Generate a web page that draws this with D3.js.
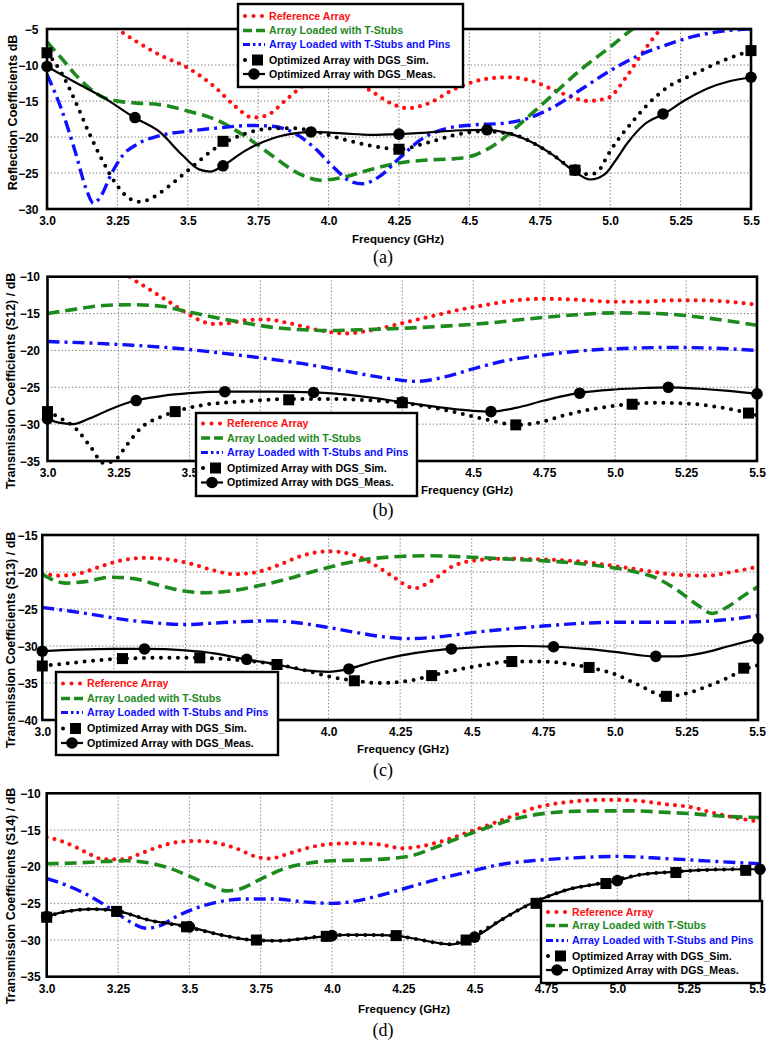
<!DOCTYPE html>
<html><head><meta charset="utf-8">
<script src="https://cdn.jsdelivr.net/npm/d3@7"></script>
<style>body{margin:0;background:#fff}</style></head>
<body><svg id="c" width="767" height="1044" xmlns="http://www.w3.org/2000/svg"></svg>
<script>
// ---------- shared labels ----------
const freqTicks = [3.0,3.25,3.5,3.75,4.0,4.25,4.5,4.75,5.0,5.25,5.5];
const freqTickLabels = ["3.0","3.25","3.5","3.75","4.0","4.25","4.5","4.75","5.0","5.25","5.5"];
const legendLabels = ["Reference Array","Array Loaded with T-Stubs","Array Loaded with T-Stubs and Pins","Optimized Array with DGS_Sim.","Optimized Array with DGS_Meas."];
const yTitles = ["Reflection Coefficients dB","Transmission Coefficients (S12) / dB","Transmission Coefficients (S13) / dB","Transmission Coefficients (S14) / dB"];
const panelLetters = ["(a)","(b)","(c)","(d)"];
const yTicksA = [-30,-25,-20,-15,-10,-5];
const yTicksB = [-35,-30,-25,-20,-15,-10];
const yTicksC = [-40,-35,-30,-25,-20,-15];
const yTicksD = [-35,-30,-25,-20,-15,-10];

// ---------- panel (a) ----------
const aRef = [[3.2,-3.6],[3.25,-5],[3.32,-6.8],[3.4,-8.6],[3.5,-10.4],[3.6,-13.2],[3.67,-15.8],[3.73,-17.3],[3.78,-17.0],[3.85,-14.8],[3.92,-12.6],[4.0,-11.6],[4.07,-12.0],[4.15,-13.6],[4.22,-15.3],[4.28,-16.0],[4.35,-15.4],[4.45,-13.3],[4.55,-12.0],[4.64,-11.7],[4.72,-12.2],[4.82,-13.8],[4.92,-15.0],[4.99,-14.6],[5.06,-11.5],[5.12,-8.0],[5.18,-5],[5.22,-3.5]];
const aStub = [[3.0,-6.8],[3.05,-9],[3.1,-11.3],[3.15,-13.2],[3.2,-14.5],[3.25,-15.0],[3.32,-15.3],[3.4,-15.5],[3.5,-16.4],[3.6,-17.6],[3.7,-19.8],[3.8,-22.6],[3.9,-25.2],[3.97,-26.0],[4.05,-25.6],[4.15,-24.5],[4.25,-23.6],[4.35,-23.2],[4.45,-23.0],[4.52,-22.5],[4.6,-20.8],[4.7,-17.5],[4.8,-14.0],[4.9,-10.5],[5.0,-7.5],[5.08,-5.0],[5.12,-4.0]];
const aPins = [[3.0,-11.3],[3.05,-16],[3.1,-22],[3.14,-27.3],[3.165,-29.2],[3.19,-28.3],[3.23,-25],[3.27,-22.5],[3.32,-21],[3.4,-19.8],[3.5,-19.2],[3.62,-18.7],[3.72,-18.4],[3.8,-18.5],[3.88,-19.5],[3.95,-21.5],[4.02,-24.3],[4.08,-26.2],[4.12,-26.5],[4.18,-25.5],[4.25,-23],[4.33,-20.3],[4.42,-18.8],[4.52,-18.3],[4.62,-18.1],[4.7,-17.5],[4.8,-15.8],[4.9,-13.3],[5.0,-10.8],[5.1,-8.7],[5.2,-7.2],[5.3,-6.0],[5.4,-5.3],[5.5,-5.0]];
const aSim = [[3.0,-8.3],[3.05,-11],[3.1,-15],[3.15,-19.5],[3.2,-23.5],[3.25,-26.8],[3.3,-28.7],[3.33,-29],[3.38,-28.3],[3.45,-26.3],[3.52,-24],[3.6,-21.5],[3.7,-19.6],[3.8,-18.8],[3.88,-18.8],[3.96,-19.3],[4.05,-20.3],[4.15,-21.2],[4.25,-21.7],[4.35,-20.8],[4.45,-19.7],[4.55,-19.2],[4.65,-19.6],[4.72,-20.7],[4.8,-22.6],[4.87,-24.5],[4.93,-25.2],[4.965,-24.4],[4.99,-22.6],[5.02,-20.8],[5.07,-18.3],[5.13,-15.6],[5.2,-13.2],[5.3,-11.2],[5.4,-9.4],[5.5,-8.0]];
const aSimMarks = [[3.0,-8.3],[3.625,-20.6],[4.25,-21.7],[4.875,-24.6],[5.5,-8.0]];
const aMeas = [[3.0,-10.2],[3.1,-12.4],[3.2,-14.5],[3.31,-17.3],[3.4,-19.3],[3.48,-22.5],[3.54,-24.5],[3.58,-24.8],[3.625,-24.0],[3.7,-22],[3.8,-20.2],[3.9,-19.4],[3.94,-19.3],[4.05,-19.5],[4.15,-19.7],[4.25,-19.6],[4.35,-19.4],[4.45,-19.1],[4.56,-19.0],[4.65,-19.6],[4.72,-20.7],[4.8,-22.6],[4.86,-24.4],[4.93,-25.9],[4.98,-25.2],[5.02,-23.2],[5.06,-20.9],[5.12,-18.3],[5.19,-16.8],[5.27,-14.8],[5.35,-13.2],[5.42,-12.3],[5.5,-11.7]];
const aMeasMarks = [[3.0,-10.2],[3.3125,-17.3],[3.625,-24.0],[3.9375,-19.3],[4.25,-19.6],[4.5625,-19.0],[4.875,-24.6],[5.1875,-16.8],[5.5,-11.7]];

// ---------- panel (b) ----------
const bRef = [[3.25,-8.5],[3.29,-10],[3.35,-11.5],[3.42,-13.2],[3.48,-14.7],[3.53,-15.8],[3.58,-16.4],[3.64,-16.3],[3.7,-15.9],[3.77,-15.8],[3.85,-16.3],[3.95,-17.2],[4.05,-17.7],[4.15,-17.2],[4.25,-16.3],[4.35,-15.4],[4.45,-14.5],[4.55,-13.8],[4.65,-13.2],[4.75,-13.0],[4.85,-13.1],[5.0,-13.4],[5.1,-13.4],[5.2,-13.2],[5.3,-13.2],[5.4,-13.4],[5.5,-13.8]];
const bStub = [[3.0,-15],[3.1,-14.4],[3.2,-13.9],[3.3,-13.8],[3.4,-14.0],[3.5,-14.8],[3.6,-15.6],[3.7,-16.3],[3.8,-16.9],[3.9,-17.2],[4.0,-17.3],[4.1,-17.2],[4.25,-17.0],[4.4,-16.7],[4.55,-16.3],[4.7,-15.7],[4.85,-15.2],[5.0,-14.9],[5.15,-15.0],[5.3,-15.5],[5.4,-16.0],[5.5,-16.6]];
const bPins = [[3.0,-18.8],[3.15,-19.0],[3.3,-19.3],[3.45,-19.7],[3.6,-20.3],[3.75,-21.0],[3.9,-21.8],[4.05,-22.8],[4.2,-23.8],[4.3,-24.2],[4.4,-23.6],[4.5,-22.5],[4.6,-21.5],[4.75,-20.6],[4.9,-20.0],[5.05,-19.7],[5.2,-19.6],[5.35,-19.7],[5.5,-20.0]];
const bSim = [[3.0,-28.3],[3.05,-29.3],[3.1,-30.6],[3.15,-33],[3.2,-35.3],[3.24,-34.8],[3.28,-32.8],[3.33,-30.5],[3.4,-29],[3.45,-28.3],[3.55,-27.4],[3.7,-26.9],[3.85,-26.6],[4.0,-26.6],[4.15,-26.8],[4.25,-27.1],[4.35,-27.7],[4.45,-28.5],[4.55,-29.4],[4.65,-30.1],[4.73,-29.8],[4.82,-28.8],[4.93,-27.9],[5.05,-27.3],[5.15,-27.1],[5.25,-27.2],[5.35,-27.6],[5.47,-28.5],[5.5,-28.8]];
const bSimMarks = [[3.0,-28.3],[3.45,-28.3],[3.85,-26.7],[4.25,-27.1],[4.65,-30.1],[5.06,-27.3],[5.47,-28.5]];
const bMeas = [[3.0,-29.3],[3.04,-29.8],[3.09,-30.0],[3.15,-29.2],[3.22,-28.0],[3.31,-26.8],[3.4,-26.2],[3.5,-25.8],[3.63,-25.6],[3.8,-25.6],[3.94,-25.7],[4.1,-26.2],[4.25,-27.0],[4.4,-27.8],[4.5,-28.2],[4.56,-28.3],[4.65,-27.8],[4.75,-26.8],[4.87,-25.8],[5.0,-25.3],[5.1,-25.1],[5.18,-25.0],[5.3,-25.2],[5.4,-25.5],[5.5,-25.9]];
const bMeasMarks = [[3.0,-29.3],[3.3125,-26.8],[3.625,-25.6],[3.9375,-25.7],[4.25,-27.0],[4.5625,-28.3],[4.875,-25.8],[5.1875,-25.0],[5.5,-25.9]];

// ---------- panel (c) ----------
const cRef = [[3.0,-20.2],[3.06,-20.5],[3.13,-20.2],[3.2,-19.3],[3.28,-18.4],[3.36,-18.1],[3.44,-18.3],[3.52,-18.9],[3.6,-19.8],[3.67,-20.3],[3.75,-20.0],[3.83,-19.0],[3.9,-17.9],[4.0,-17.2],[4.08,-17.6],[4.15,-18.8],[4.22,-20.5],[4.3,-22.2],[4.36,-21.2],[4.43,-19.3],[4.52,-18.4],[4.62,-18.2],[4.75,-18.3],[4.88,-18.6],[5.0,-19.2],[5.12,-19.9],[5.22,-20.4],[5.32,-20.5],[5.42,-19.9],[5.5,-19.3]];
const cStub = [[3.0,-20.3],[3.04,-21.1],[3.08,-21.5],[3.15,-21.3],[3.24,-20.7],[3.32,-20.9],[3.4,-21.7],[3.5,-22.6],[3.57,-22.8],[3.65,-22.6],[3.75,-21.9],[3.85,-21.0],[3.95,-19.9],[4.05,-18.9],[4.15,-18.2],[4.25,-17.9],[4.35,-17.8],[4.5,-18.0],[4.65,-18.3],[4.8,-18.6],[4.95,-19.2],[5.05,-19.8],[5.15,-20.9],[5.22,-22.5],[5.29,-24.5],[5.34,-25.6],[5.39,-24.8],[5.45,-23.2],[5.5,-22.0]];
const cPins = [[3.0,-24.8],[3.1,-25.3],[3.2,-25.9],[3.3,-26.5],[3.4,-26.9],[3.5,-27.1],[3.6,-26.9],[3.7,-26.7],[3.8,-26.6],[3.9,-26.9],[4.0,-27.5],[4.1,-28.2],[4.2,-28.8],[4.28,-29.0],[4.4,-28.7],[4.5,-28.2],[4.6,-27.8],[4.75,-27.3],[4.9,-26.9],[5.0,-26.8],[5.15,-26.8],[5.3,-26.7],[5.4,-26.4],[5.5,-25.9]];
const cSim = [[3.0,-32.7],[3.1,-32.3],[3.2,-31.9],[3.28,-31.7],[3.4,-31.6],[3.55,-31.6],[3.68,-31.9],[3.82,-32.5],[3.92,-33.3],[4.0,-34.1],[4.09,-34.7],[4.18,-35.0],[4.28,-34.7],[4.36,-34.0],[4.45,-33.2],[4.55,-32.5],[4.64,-32.1],[4.75,-32.1],[4.85,-32.5],[4.91,-32.9],[5.0,-33.8],[5.08,-35.2],[5.18,-36.8],[5.24,-36.5],[5.32,-35.5],[5.4,-34.2],[5.45,-33.2],[5.5,-32.6]];
const cSimMarks = [[3.0,-32.7],[3.28,-31.7],[3.55,-31.6],[3.82,-32.5],[4.09,-34.7],[4.36,-34.0],[4.64,-32.1],[4.91,-32.9],[5.18,-36.8],[5.45,-33.0]];
const cMeas = [[3.0,-30.7],[3.12,-30.5],[3.25,-30.4],[3.36,-30.4],[3.5,-30.6],[3.6,-31.0],[3.71,-31.8],[3.82,-32.5],[3.92,-33.3],[4.0,-33.5],[4.07,-33.1],[4.15,-32.2],[4.25,-31.3],[4.35,-30.7],[4.43,-30.4],[4.55,-30.1],[4.67,-30.0],[4.79,-30.1],[4.9,-30.4],[5.0,-30.8],[5.14,-31.4],[5.22,-31.4],[5.3,-31.0],[5.4,-30.0],[5.5,-29.0]];
const cMeasMarks = [[3.0,-30.7],[3.357,-30.4],[3.714,-31.8],[4.071,-33.1],[4.429,-30.4],[4.786,-30.1],[5.143,-31.4],[5.5,-29.0]];

// ---------- panel (d) ----------
const dRef = [[3.0,-16.0],[3.05,-16.5],[3.1,-17.3],[3.15,-18.3],[3.2,-19.0],[3.27,-19.0],[3.33,-18.2],[3.4,-17.2],[3.47,-16.6],[3.53,-16.5],[3.6,-16.8],[3.67,-17.6],[3.73,-18.6],[3.78,-18.9],[3.85,-18.2],[3.93,-17.3],[4.0,-16.9],[4.08,-16.8],[4.17,-17.0],[4.25,-17.5],[4.3,-17.3],[4.38,-16.6],[4.47,-15.4],[4.55,-14.3],[4.64,-13.0],[4.7,-12.1],[4.77,-11.5],[4.85,-11.1],[4.94,-10.9],[5.0,-10.9],[5.08,-11.05],[5.17,-11.5],[5.26,-11.9],[5.34,-12.7],[5.41,-13.3],[5.5,-13.9]];
const dStub = [[3.0,-19.6],[3.1,-19.5],[3.2,-19.3],[3.28,-19.2],[3.36,-19.5],[3.43,-20.2],[3.5,-21.3],[3.57,-22.5],[3.63,-23.3],[3.68,-23.0],[3.75,-21.7],[3.83,-20.3],[3.92,-19.5],[4.0,-19.2],[4.1,-19.1],[4.2,-18.9],[4.28,-18.5],[4.36,-17.4],[4.45,-16.0],[4.55,-14.6],[4.63,-13.6],[4.7,-13.0],[4.82,-12.5],[4.94,-12.4],[5.06,-12.4],[5.17,-12.6],[5.27,-12.8],[5.36,-13.1],[5.5,-13.3]];
const dPins = [[3.0,-21.6],[3.08,-22.7],[3.16,-24.2],[3.245,-26.3],[3.3,-27.7],[3.35,-28.4],[3.4,-28.0],[3.45,-26.9],[3.5,-26.0],[3.58,-25.0],[3.7,-24.4],[3.8,-24.4],[3.9,-24.8],[4.0,-25.0],[4.08,-24.7],[4.17,-23.9],[4.27,-22.8],[4.37,-21.7],[4.48,-20.7],[4.59,-19.7],[4.7,-19.2],[4.85,-18.8],[5.0,-18.6],[5.17,-18.9],[5.35,-19.3],[5.5,-19.6]];
const dSim = [[3.0,-26.8],[3.07,-26.1],[3.16,-25.8],[3.24,-26.0],[3.36,-27.3],[3.49,-28.2],[3.61,-29.3],[3.72,-30.0],[3.82,-30.1],[3.9,-29.8],[3.98,-29.4],[4.05,-29.3],[4.13,-29.3],[4.22,-29.4],[4.3,-29.9],[4.37,-30.4],[4.42,-30.6],[4.46,-30.0],[4.52,-28.9],[4.6,-27.1],[4.705,-24.9],[4.82,-23.2],[4.95,-22.2],[5.08,-21.1],[5.2,-20.7],[5.31,-20.45],[5.44,-20.35],[5.5,-20.35]];
const dSimMarks = [[3.0,-26.9],[3.245,-26.1],[3.49,-28.2],[3.735,-30.0],[3.98,-29.5],[4.225,-29.4],[4.47,-30.0],[4.715,-25.0],[4.96,-22.3],[5.205,-20.8],[5.45,-20.5]];
const dMeas = [[3.0,-26.8],[3.07,-26.1],[3.16,-25.8],[3.24,-26.0],[3.36,-27.3],[3.5,-28.2],[3.61,-29.3],[3.72,-30.0],[3.82,-30.1],[3.9,-29.8],[4.0,-29.4],[4.05,-29.3],[4.13,-29.3],[4.22,-29.4],[4.3,-29.9],[4.37,-30.4],[4.42,-30.6],[4.5,-29.6],[4.6,-27.1],[4.705,-24.9],[4.82,-23.2],[5.0,-21.9],[5.08,-21.1],[5.2,-20.7],[5.31,-20.45],[5.44,-20.35],[5.5,-20.35]];
const dMeasMarks = [[3.0,-26.8],[3.5,-28.2],[4.0,-29.4],[4.5,-29.6],[5.0,-21.9],[5.5,-20.35]];

// ---------- styles ----------
const C_RED = "#ff1010", C_GREEN = "#1d8a1d", C_BLUE = "#1010ff", C_BLACK = "#000";
const FONT = "'Liberation Sans', Arial, sans-serif";

const panels = [
  {yTicks:yTicksA, l:47, r:751, t:29, b:209, yLabOff:8.5, titleX:17, titleY:112.5, letterY:263, freqX:398, freqY:243,
   series:[aRef,aStub,aPins,aSim,aMeas], simMarks:aSimMarks, measMarks:aMeasMarks,
   legend:{x:238, y:4, w:225, h:83, rows:[16,30.5,44.5,60,74]}},
  {yTicks:yTicksB, l:47.5, r:757, t:276.7, b:461, yLabOff:7.5, titleX:14.5, titleY:381, letterY:516, freqX:467, freqY:494,
   series:[bRef,bStub,bPins,bSim,bMeas], simMarks:bSimMarks, measMarks:bMeasMarks,
   legend:{x:196, y:413, w:221, h:83, rows:[423.5,438,452.5,468,482.5]}},
  {yTicks:yTicksC, l:42.3, r:758, t:535, b:720, yLabOff:4.5, titleX:14.5, titleY:640, letterY:776, freqX:403, freqY:753,
   series:[cRef,cStub,cPins,cSim,cMeas], simMarks:cSimMarks, measMarks:cMeasMarks,
   legend:{x:56, y:672, w:222, h:83, rows:[683.5,698.5,712.5,728.5,743]}},
  {yTicks:yTicksD, l:46.7, r:760, t:793.3, b:976.7, yLabOff:6, titleX:14.5, titleY:896, letterY:1036, freqX:404, freqY:1013,
   series:[dRef,dStub,dPins,dSim,dMeas], simMarks:dSimMarks, measMarks:dMeasMarks,
   legend:{x:541, y:901, w:221, h:82, rows:[912,925.5,940.5,956,970]}}
];

const svg = d3.select("#c");
svg.append("rect").attr("width",767).attr("height",1044).attr("fill","#fff");

const seriesStyle = [
  {stroke:C_RED, width:4.2, dash:"0,8", cap:"round"},
  {stroke:C_GREEN, width:3.6, dash:"12,6", cap:"butt"},
  {stroke:C_BLUE, width:3.4, dash:"12,5,3,5", cap:"butt"},
  {stroke:C_BLACK, width:4, dash:"0,8.5", cap:"round"},
  {stroke:C_BLACK, width:2.2, dash:null, cap:"butt"}
];
const textColors = [C_RED, C_GREEN, C_BLUE, C_BLACK, C_BLACK];

panels.forEach((p, i) => {
  const g = svg.append("g");
  const x = d3.scaleLinear().domain([3.0,5.5]).range([p.l, p.r]);
  const y = d3.scaleLinear().domain([p.yTicks[0], p.yTicks[p.yTicks.length-1]]).range([p.b, p.t]);

  // grid
  g.append("g").selectAll("line").data(freqTicks.slice(1,-1)).join("line")
    .attr("x1",d=>x(d)).attr("x2",d=>x(d)).attr("y1",p.t).attr("y2",p.b)
    .attr("stroke","#888").attr("stroke-width",1).attr("stroke-dasharray","1.5,2");
  g.append("g").selectAll("line").data(p.yTicks.slice(1,-1)).join("line")
    .attr("y1",d=>y(d)).attr("y2",d=>y(d)).attr("x1",p.l).attr("x2",p.r)
    .attr("stroke","#888").attr("stroke-width",1).attr("stroke-dasharray","1.5,2");

  // axes (labels only)
  const xAxis = d3.axisBottom(x).tickValues(freqTicks).tickSize(0).tickPadding(0)
    .tickFormat((d,k)=>freqTickLabels[k]);
  const xa = g.append("g").attr("transform",`translate(0,${p.b})`).call(xAxis);
  xa.select(".domain").remove();
  xa.selectAll("text").attr("dy",null).attr("y",16).attr("font-family",FONT)
    .attr("font-weight","bold").attr("font-size",12).attr("fill","#000")
    .attr("x",d=> (x(d) + 9 > 766 ? 766 - 9 - x(d) : 0));
  const yAxis = d3.axisLeft(y).tickValues(p.yTicks).tickSize(0).tickPadding(0);
  const ya = g.append("g").attr("transform",`translate(${p.l-p.yLabOff},0)`).call(yAxis);
  ya.select(".domain").remove();
  ya.selectAll("text").attr("dy","0.35em").attr("x",0).attr("font-family",FONT)
    .attr("font-weight","bold").attr("font-size",12).attr("fill","#000");

  // clip
  const cid = "clip"+i;
  svg.append("clipPath").attr("id",cid).append("rect")
    .attr("x",p.l).attr("y",p.t).attr("width",p.r-p.l).attr("height",p.b-p.t+14);

  const line = d3.line().x(d=>x(d[0])).y(d=>y(d[1])).curve(d3.curveMonotoneX);
  const plot = g.append("g").attr("clip-path",`url(#${cid})`);
  p.series.forEach((s, k) => {
    const st = seriesStyle[k];
    plot.append("path").datum(s).attr("d",line).attr("fill","none")
      .attr("stroke",st.stroke).attr("stroke-width",st.width)
      .attr("stroke-linecap",st.cap).attr("stroke-dasharray",st.dash);
  });
  // markers
  g.append("g").selectAll("rect").data(p.simMarks).join("rect")
    .attr("x",d=>x(d[0])-5.5).attr("y",d=>y(d[1])-5.5).attr("width",11).attr("height",11).attr("fill","#000");
  g.append("g").selectAll("circle").data(p.measMarks).join("circle")
    .attr("cx",d=>x(d[0])).attr("cy",d=>y(d[1])).attr("r",5.8).attr("fill","#000");

  // frame
  g.append("rect").attr("x",p.l).attr("y",p.t).attr("width",p.r-p.l).attr("height",p.b-p.t)
    .attr("fill","none").attr("stroke","#000").attr("stroke-width",2.6);

  // titles
  g.append("text").attr("x",p.freqX).attr("y",p.freqY).attr("text-anchor","middle")
    .attr("font-family",FONT).attr("font-weight","bold").attr("font-size",11.5).text("Frequency (GHz)");
  g.append("text").attr("transform",`translate(${p.titleX},${p.titleY}) rotate(-90)`).attr("text-anchor","middle")
    .attr("font-family",FONT).attr("font-weight","bold").attr("font-size",12.5).text(yTitles[i]);
  g.append("text").attr("x",383).attr("y",p.letterY).attr("text-anchor","middle")
    .attr("font-family","'Liberation Serif', 'Times New Roman', serif").attr("font-size",18).text(panelLetters[i]);

  // legend
  const L = p.legend;
  const lg = g.append("g");
  lg.append("rect").attr("x",L.x).attr("y",L.y).attr("width",L.w).attr("height",L.h)
    .attr("fill","#fff").attr("stroke","#000").attr("stroke-width",2.4);
  const sx = L.x + 5, ex = L.x + 27, tx = L.x + 31;
  L.rows.forEach((ry, k) => {
    if (k === 0) {
      lg.selectAll(null).data([0,1,2]).join("circle").attr("cx",j=>sx+2+j*8.5).attr("cy",ry).attr("r",2).attr("fill",C_RED);
    } else if (k === 1) {
      lg.append("line").attr("x1",sx).attr("x2",ex).attr("y1",ry).attr("y2",ry)
        .attr("stroke",C_GREEN).attr("stroke-width",3.4).attr("stroke-dasharray","9,4");
    } else if (k === 2) {
      lg.append("line").attr("x1",sx).attr("x2",ex).attr("y1",ry).attr("y2",ry)
        .attr("stroke",C_BLUE).attr("stroke-width",3).attr("stroke-dasharray","7,3,2.5,3,2.5,3");
    } else if (k === 3) {
      lg.append("circle").attr("cx",sx+2).attr("cy",ry).attr("r",2).attr("fill","#000");
      lg.append("rect").attr("x",sx+9).attr("y",ry-5.5).attr("width",11).attr("height",11).attr("fill","#000");
    } else {
      lg.append("line").attr("x1",sx).attr("x2",ex).attr("y1",ry).attr("y2",ry)
        .attr("stroke","#000").attr("stroke-width",2.2);
      lg.append("circle").attr("cx",(sx+ex)/2).attr("cy",ry).attr("r",5.8).attr("fill","#000");
    }
    lg.append("text").attr("x",tx).attr("y",ry).attr("dy","0.36em")
      .attr("font-family",FONT).attr("font-weight","bold").attr("font-size",10.6)
      .attr("fill",textColors[k]).text(legendLabels[k]);
  });
});
</script>
</body></html>
